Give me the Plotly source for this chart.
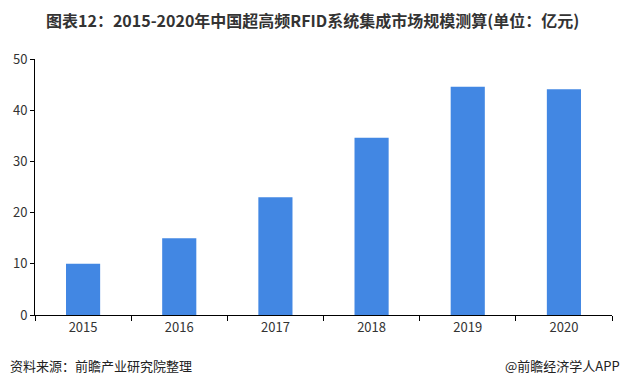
import plotly.graph_objects as go

years = ["2015", "2016", "2017", "2018", "2019", "2020"]
values = [10.0, 15.0, 23.0, 34.6, 44.6, 44.1]
y_ticks = [0, 10, 20, 30, 40, 50]

title_text = "图表12：2015-2020年中国超高频RFID系统集成市场规模测算(单位：亿元)"
source_text = "资料来源：前瞻产业研究院整理"
brand_text = "@前瞻经济学人APP"

fig = go.Figure()
fig.add_trace(go.Bar(x=years, y=values, marker=dict(color="#4287E3", line=dict(width=0)),
                     width=0.355))

font_main = "Noto Sans CJK SC, Noto Sans, DejaVu Sans, sans-serif"

fig.update_layout(
    width=624, height=388,
    margin=dict(l=35, r=12, t=59, b=73, autoexpand=False),
    plot_bgcolor="white", paper_bgcolor="white",
    showlegend=False,
    font=dict(family=font_main, color="#333333"),
    xaxis=dict(type="category", showline=True, linecolor="black", linewidth=1,
               ticks="outside", tickson="boundaries", ticklen=5, tickcolor="black",
               tickfont=dict(size=13, color="#333333"), showgrid=False, fixedrange=True,
               automargin=False),
    yaxis=dict(range=[0, 50], tickvals=y_ticks, showline=True, linecolor="black", linewidth=1,
               ticks="outside", ticklen=4, tickcolor="black", showgrid=False, zeroline=False,
               tickfont=dict(size=13, color="#333333"), fixedrange=True, automargin=False),
)

fig.add_annotation(text="<b>" + title_text + "</b>", xref="paper", yref="paper",
                   x=0.5, y=1, xanchor="center", yanchor="middle",
                   xshift=-11, yshift=59 - 20, showarrow=False,
                   font=dict(size=16, color="#333333", family=font_main))
fig.add_annotation(text=source_text, xref="paper", yref="paper", x=0, y=0,
                   xanchor="left", yanchor="middle", xshift=-27, yshift=-(365 - 315),
                   showarrow=False, font=dict(size=13, color="#222222", family=font_main))
fig.add_annotation(text=brand_text, xref="paper", yref="paper", x=1, y=0,
                   xanchor="right", yanchor="middle", xshift=10, yshift=-(365 - 315),
                   showarrow=False, font=dict(size=13, color="#222222", family=font_main))

fig.write_html("out.html", config={"displayModeBar": False, "staticPlot": True})

with open("out.html", "r", encoding="utf-8") as f:
    html = f.read()
html = html.replace("<head>", "<head><style>html,body{margin:0;padding:0;overflow:hidden;}</style>", 1)
with open("out.html", "w", encoding="utf-8") as f:
    f.write(html)
